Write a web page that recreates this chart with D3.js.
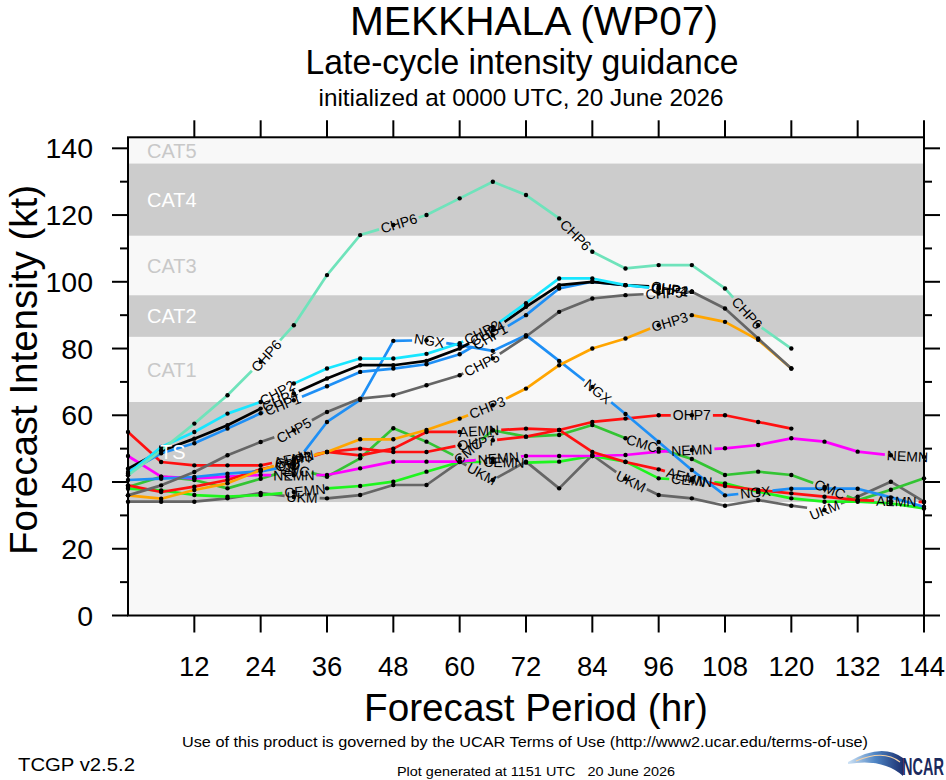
<!DOCTYPE html>
<html>
<head>
<meta charset="utf-8">
<script src="https://cdn.jsdelivr.net/npm/d3@7"></script>
<style>
  body { margin: 0; background: #fff; }
  svg { display: block; }
  text { font-family: "Liberation Sans", Arial, Helvetica, sans-serif; }
</style>
</head>
<body>
<div id="chart"></div>
<script>
// forecast hours (x) and intensity (kt)
const forecastHours = [0, 6, 12, 18, 24, 30, 36, 42, 48, 54, 60, 66, 72, 78, 84, 90, 96, 102, 108, 114, 120, 126, 132, 138, 144];

const chp6 = [42, 49.5, 57.5, 66, 76, 87, 102, 114, 117, 120, 125, 130, 126, 119, 109, 104, 105, 105, 98, 87, 80];
const chp2 = [42.5, 50.5, 55, 60.5, 64, 69.5, 74, 77, 77, 78.4, 81.6, 86.5, 93.6, 101, 101, 99, 98, 97];
const chp4 = [44, 49.3, 53, 57, 62, 66.5, 71, 75, 75, 76.3, 80, 85.5, 92.5, 99, 100, 99, 98.5, 97];
const chp1 = [43, 48.6, 51.6, 56, 60.6, 64.5, 68.7, 73, 74, 75.3, 78.3, 84, 90, 98, 100, 99, 98, 97];
const chp5 = [36, 39, 43, 48, 52, 55.5, 61, 65, 66, 69, 72, 77, 83.6, 91, 95, 96, 96.5, 97, 92, 83, 74];
const chp3 = [36, 35, 37.6, 39.6, 43.6, 46.6, 49, 52.8, 52.8, 55.6, 59, 63, 68, 75, 80, 83, 87, 90, 88, 82.6, 74];
const ngx  = [40.6, 41, 41.5, 42.5, 43.2, 45, 58, 64.6, 82.3, 82.5, 81, 79.3, 84, 76.3, 68.5, 60.4, 52, 43.6, 36, 37, 38, 38, 38, 35.4, 32.6];
const ohp7 = [39, 37, 38.6, 40.6, 43.8, 46, 49, 50, 49, 49, 51, 52.5, 53.6, 55.6, 58, 59, 60, 60, 60, 58, 56];
const aemn = [55, 46, 45, 45, 45, 47, 49, 48, 50, 55, 55, 55.5, 56, 55.6, 49, 46, 43.8, 41, 38.8, 37.6, 36.6, 35.6, 34.6, 34.3, 34];
const nemn = [47.8, 41.6, 41.1, 41.6, 42.1, 42, 42.1, 44.1, 46.1, 46.1, 46.1, 47, 47.8, 47.8, 47.8, 48.1, 49.1, 49.6, 50.1, 51.1, 53.1, 52.1, 49.1, 48, 47.5];
const cemn = [38, 37.5, 36.1, 35.6, 36.1, 37, 38.1, 38.8, 40.1, 43.1, 46, 46, 45.8, 46.1, 47.8, 46.1, 41.1, 40.5, 39.6, 37.1, 35.1, 34.1, 34.1, 33.6, 32.1];
const cmc  = [38.5, 41.6, 40.6, 38.1, 41, 44, 41.6, 47.1, 56.1, 52.1, 47.1, 55.5, 53.6, 54.1, 57.1, 53.1, 50, 46.9, 42.1, 43.1, 42.1, 38.5, 34.5, 37.7, 41.1];
const ukm  = [34.1, 34.1, 34.1, 35.1, 36.7, 35.5, 35.1, 36.1, 39.1, 39.1, 46.1, 40.6, 46.1, 38.1, 48.1, 41, 36.1, 35.1, 32.9, 34.6, 32.9, 31.6, 35.6, 40.1, 34.1];

const modelNames = ["UKM", "CMC", "CEMN", "NEMN", "AEMN", "OHP7", "NGX", "CHP3", "CHP5", "CHP1", "CHP4", "CHP2", "CHP6"];
const modelValues = [ukm, cmc, cemn, nemn, aemn, ohp7, ngx, chp3, chp5, chp1, chp4, chp2, chp6];
// hours where the model name is written along its line
const modelLabelHours = [
  [31.5, 64, 91, 126],
  [30, 61.5, 93, 127],
  [32, 68, 102],
  [30, 67, 102, 141],
  [30, 63.5, 101, 139],
  [30, 63, 102],
  [30, 54.5, 85, 113.5],
  [30, 65, 98],
  [30, 64, 97],
  [28, 65.5, 98],
  [27.5, 65, 98],
  [27, 64, 98],
  [25, 49, 81, 112]
];
const modelColors = ["#666666", "#33c433", "#1ef51e", "#ff00ff", "#ff1010", "#ff1010", "#1e8ff5", "#ffa500", "#666666", "#1e8ff5", "#000000", "#18e6ff", "#6fe3bb"];

// intensity categories
const bandNames = ["TD", "TS", "CAT1", "CAT2", "CAT3", "CAT4", "CAT5"];
const bandBottoms = [0, 34, 64, 83.5, 96, 113.8, 135.5];
const bandTops = [34, 64, 83.5, 96, 113.8, 135.5, 143.3];

const xTicks = [12, 24, 36, 48, 60, 72, 84, 96, 108, 120, 132, 144];
const yTicks = [0, 20, 40, 60, 80, 100, 120, 140];
const yMinorTicks = [10, 30, 50, 70, 90, 110, 130];

const W = 946, H = 780;
const margin = {top: 137.3, right: 22, bottom: 164.5, left: 128};

const svg = d3.select("#chart").append("svg")
    .attr("width", W)
    .attr("height", H);

const x = d3.scaleLinear([0, 144], [margin.left, W - margin.right]);
const y = d3.scaleLinear([0, 143.3], [H - margin.bottom, margin.top]);
const color = d3.scaleOrdinal(modelNames, modelColors);

// category bands
const bands = bandNames.map((name, i) => ({name, lo: bandBottoms[i], hi: bandTops[i], dark: i % 2 === 1}));
svg.append("g")
    .selectAll("rect")
    .data(bands)
    .join("rect")
    .attr("x", x(0))
    .attr("width", x(144) - x(0))
    .attr("y", d => y(d.hi))
    .attr("height", d => y(d.lo) - y(d.hi))
    .attr("fill", d => d.dark ? "#cccccc" : "#f8f8f8");

const lineLayer = svg.append("g");
const dotLayer = svg.append("g");
const bandLabelLayer = svg.append("g");
const labelLayer = svg.append("g");

bandLabelLayer.selectAll("text")
    .data(bands.filter(d => d.name !== "TD"))
    .join("text")
    .attr("x", d => d.name === "TS" ? 160 : 147)
    .attr("y", d => y((d.lo + d.hi) / 2))
    .attr("dy", "0.36em")
    .attr("font-size", 20)
    .attr("fill", d => d.dark ? "#ffffff" : "#c8c8c8")
    .text(d => d.name);

const line = d3.line().x(d => x(d.h)).y(d => y(d.v));

modelNames.forEach((name, k) => {
    const pts = modelValues[k].map((v, i) => ({h: forecastHours[i], v}));
    const xy = pts.map(p => [x(p.h), y(p.v)]);
    const cum = [0];
    for (let i = 1; i < xy.length; i++) {
        cum.push(cum[i - 1] + Math.hypot(xy[i][0] - xy[i - 1][0], xy[i][1] - xy[i - 1][1]));
    }
    const total = cum[cum.length - 1];

    // place the labels and cut a gap in the line under each one
    const gaps = [];
    modelLabelHours[k].forEach(h => {
        const i = Math.min(Math.floor(h / 6), xy.length - 2);
        const t = (h - forecastHours[i]) / 6;
        const p0 = xy[i], p1 = xy[i + 1];
        const px = p0[0] + t * (p1[0] - p0[0]);
        const py = p0[1] + t * (p1[1] - p0[1]);
        const ang = Math.atan2(p1[1] - p0[1], p1[0] - p0[0]) * 180 / Math.PI;
        const s = cum[i] + t * (cum[i + 1] - cum[i]);
        const label = labelLayer.append("text")
            .attr("transform", `translate(${px},${py}) rotate(${ang})`)
            .attr("text-anchor", "middle")
            .attr("dy", "0.36em")
            .attr("font-size", 14)
            .attr("fill", "#000")
            .text(name);
        const w = label.node().getComputedTextLength();
        gaps.push([Math.max(0, s - w / 2 - 2), Math.min(total, s + w / 2 + 2)]);
    });
    gaps.sort((a, b) => a[0] - b[0]);
    const dash = [];
    let pos = 0;
    gaps.forEach(g => {
        dash.push(Math.max(0, g[0] - pos), g[1] - g[0]);
        pos = g[1];
    });
    dash.push(total - pos + 1, total + 10);

    lineLayer.append("path")
        .datum(pts)
        .attr("d", line)
        .attr("fill", "none")
        .attr("stroke", color(name))
        .attr("stroke-width", 2.7)
        .attr("stroke-linejoin", "round")
        .attr("stroke-dasharray", dash.join(","));

    dotLayer.selectAll(null)
        .data(pts)
        .join("circle")
        .attr("cx", d => x(d.h))
        .attr("cy", d => y(d.v))
        .attr("r", 2.2)
        .attr("fill", "#000");
});

// frame and ticks
const axes = svg.append("g").attr("stroke", "#000").attr("stroke-width", 2);
axes.append("rect")
    .attr("x", x(0)).attr("y", y(143.3))
    .attr("width", x(144) - x(0)).attr("height", y(0) - y(143.3))
    .attr("fill", "none");

axes.selectAll(null).data(xTicks).join("line")
    .attr("x1", d => x(d)).attr("x2", d => x(d))
    .attr("y1", y(0)).attr("y2", y(0) + 17);
axes.selectAll(null).data(xTicks).join("line")
    .attr("x1", d => x(d)).attr("x2", d => x(d))
    .attr("y1", y(143.3)).attr("y2", y(143.3) - 17);
axes.selectAll(null).data(yTicks).join("line")
    .attr("x1", x(0) - 16).attr("x2", x(0))
    .attr("y1", d => y(d)).attr("y2", d => y(d));
axes.selectAll(null).data(yTicks).join("line")
    .attr("x1", x(144)).attr("x2", x(144) + 16)
    .attr("y1", d => y(d)).attr("y2", d => y(d));
axes.selectAll(null).data(yMinorTicks).join("line")
    .attr("x1", x(0) - 8).attr("x2", x(0))
    .attr("y1", d => y(d)).attr("y2", d => y(d));
axes.selectAll(null).data(yMinorTicks).join("line")
    .attr("x1", x(144)).attr("x2", x(144) + 8)
    .attr("y1", d => y(d)).attr("y2", d => y(d));

svg.append("g").selectAll("text").data(xTicks).join("text")
    .attr("x", d => x(d) - (d === 144 ? 2 : 0))
    .attr("y", 676)
    .attr("text-anchor", "middle")
    .attr("font-size", 27.5)
    .text(d => d);

svg.append("g").selectAll("text").data(yTicks).join("text")
    .attr("x", 93)
    .attr("y", d => y(d) + 10)
    .attr("text-anchor", "end")
    .attr("font-size", 28.5)
    .text(d => d);

// titles
svg.append("text")
    .attr("x", 534).attr("y", 35)
    .attr("text-anchor", "middle")
    .attr("font-size", 40)
    .attr("textLength", 368).attr("lengthAdjust", "spacingAndGlyphs")
    .text("MEKKHALA (WP07)");
svg.append("text")
    .attr("x", 522).attr("y", 74)
    .attr("text-anchor", "middle")
    .attr("font-size", 35)
    .attr("textLength", 433).attr("lengthAdjust", "spacingAndGlyphs")
    .text("Late-cycle intensity guidance");
svg.append("text")
    .attr("x", 521).attr("y", 106)
    .attr("text-anchor", "middle")
    .attr("font-size", 24.5)
    .attr("textLength", 405).attr("lengthAdjust", "spacingAndGlyphs")
    .text("initialized at 0000 UTC, 20 June 2026");

svg.append("text")
    .attr("transform", "translate(37,370) rotate(-90)")
    .attr("text-anchor", "middle")
    .attr("font-size", 38)
    .attr("textLength", 370).attr("lengthAdjust", "spacingAndGlyphs")
    .text("Forecast Intensity (kt)");
svg.append("text")
    .attr("x", 536).attr("y", 721)
    .attr("text-anchor", "middle")
    .attr("font-size", 38.5)
    .attr("textLength", 344).attr("lengthAdjust", "spacingAndGlyphs")
    .text("Forecast Period (hr)");

// footer
svg.append("text")
    .attr("x", 525).attr("y", 747)
    .attr("text-anchor", "middle")
    .attr("font-size", 15)
    .attr("textLength", 686).attr("lengthAdjust", "spacingAndGlyphs")
    .text("Use of this product is governed by the UCAR Terms of Use (http://www2.ucar.edu/terms-of-use)");
svg.append("text")
    .attr("x", 18).attr("y", 771)
    .attr("font-size", 18)
    .attr("textLength", 117).attr("lengthAdjust", "spacingAndGlyphs")
    .text("TCGP v2.5.2");
svg.append("text")
    .attr("x", 536).attr("y", 776)
    .attr("text-anchor", "middle")
    .attr("font-size", 12)
    .style("white-space", "pre")
    .attr("textLength", 278).attr("lengthAdjust", "spacingAndGlyphs")
    .text("Plot generated at 1151 UTC   20 June 2026");

// NCAR logo
const defs = svg.append("defs");
const grad = defs.append("linearGradient").attr("id", "swoosh").attr("x1", 0).attr("x2", 1).attr("y1", 0).attr("y2", 0);
grad.append("stop").attr("offset", 0).attr("stop-color", "#cfe3f5");
grad.append("stop").attr("offset", 0.5).attr("stop-color", "#4d84c4");
grad.append("stop").attr("offset", 1).attr("stop-color", "#1b2f6e");
svg.append("path")
    .attr("d", "M848,762 Q882,742 903,758 L903,776 Q883,758 848,764 Z")
    .attr("fill", "url(#swoosh)");
svg.append("path")
    .attr("d", "M856,761 Q884,749 900,762")
    .attr("fill", "none")
    .attr("stroke", "#f3d2a8")
    .attr("stroke-width", 1.2);
svg.append("text")
    .attr("transform", "translate(902,775) scale(1,1.6)")
    .attr("font-size", 14.5)
    .attr("font-weight", "bold")
    .attr("fill", "#1b2a5c")
    .text("NCAR");
</script>
</body>
</html>
